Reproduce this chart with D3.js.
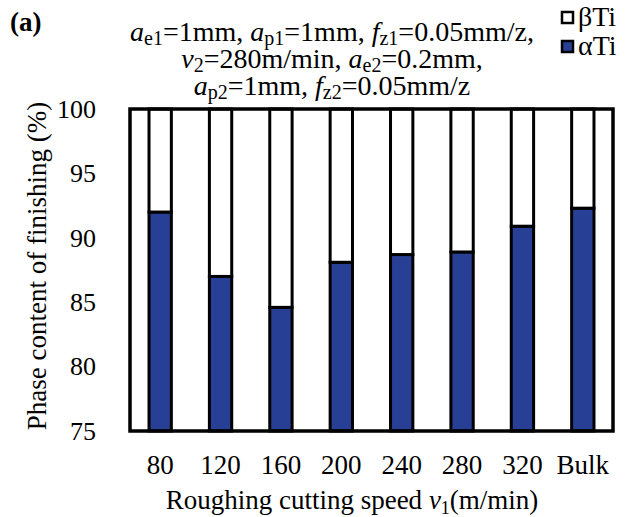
<!DOCTYPE html>
<html>
<head>
<meta charset="utf-8">
<script src="https://cdn.jsdelivr.net/npm/d3@7"></script>
<style>
  body { margin: 0; background: #fff; }
  text { font-family: "Liberation Serif", "Times New Roman", serif; fill: #000; }
</style>
</head>
<body>
<svg id="chart"></svg>
<script>
// data
var categories = ["80", "120", "160", "200", "240", "280", "320", "Bulk"];
var alphaTi = [92.0, 87.0, 84.6, 88.1, 88.7, 88.9, 90.9, 92.3];
var betaTi = [8.0, 13.0, 15.4, 11.9, 11.3, 11.1, 9.1, 7.7];
var yTicks = [75, 80, 85, 90, 95, 100];

var width = 627, height = 517;
var plotLeft = 130, plotRight = 613, plotTop = 109, plotBottom = 431;
var blue = "#273f94";

var svg = d3.select("#chart").attr("width", width).attr("height", height);

var x = d3.scaleBand()
  .domain(categories)
  .range([plotLeft, plotRight])
  .paddingInner(0.63)
  .paddingOuter(0.315);

var y = d3.scaleLinear().domain([75, 100]).range([plotBottom, plotTop]);

var rows = categories.map(function(c, i) {
  return { cat: c, alpha: alphaTi[i], beta: betaTi[i] };
});

// alpha (bottom, blue)
svg.selectAll("rect.alpha")
  .data(rows)
  .enter().append("rect")
  .attr("class", "alpha")
  .attr("x", function(d) { return x(d.cat); })
  .attr("width", x.bandwidth())
  .attr("y", function(d) { return y(d.alpha); })
  .attr("height", function(d) { return y(75) - y(d.alpha); })
  .attr("fill", blue)
  .attr("stroke", "#000")
  .attr("stroke-width", 3);

// beta (stacked on top, white)
svg.selectAll("rect.beta")
  .data(rows)
  .enter().append("rect")
  .attr("class", "beta")
  .attr("x", function(d) { return x(d.cat); })
  .attr("width", x.bandwidth())
  .attr("y", function(d) { return y(d.alpha + d.beta); })
  .attr("height", function(d) { return y(d.alpha) - y(d.alpha + d.beta); })
  .attr("fill", "#fff")
  .attr("stroke", "#000")
  .attr("stroke-width", 3);

// frame
svg.append("rect")
  .attr("x", plotLeft).attr("y", plotTop)
  .attr("width", plotRight - plotLeft).attr("height", plotBottom - plotTop)
  .attr("fill", "none").attr("stroke", "#000").attr("stroke-width", 3.5);

// y axis
var yAxis = d3.axisLeft(y).tickValues(yTicks).tickSize(0).tickPadding(34);
var gy = svg.append("g").attr("transform", "translate(" + plotLeft + ",0)").call(yAxis);
gy.select(".domain").remove();
gy.selectAll("text").style("font-size", "26px").style("font-family", "Liberation Serif");

// x axis
var xAxis = d3.axisBottom(x).tickSize(0).tickPadding(24);
var gx = svg.append("g").attr("transform", "translate(0," + plotBottom + ")").call(xAxis);
gx.select(".domain").remove();
gx.selectAll("text").style("font-size", "27px").style("font-family", "Liberation Serif");

// axis titles
svg.append("text")
  .attr("transform", "translate(46,266) rotate(-90)")
  .attr("text-anchor", "middle")
  .style("font-size", "27px")
  .text("Phase content of finishing (%)");

var xt = svg.append("text")
  .attr("x", 352).attr("y", 509)
  .attr("text-anchor", "middle")
  .style("font-size", "27px");
xt.append("tspan").text("Roughing cutting speed ");
xt.append("tspan").style("font-style", "italic").text("v");
xt.append("tspan").attr("dy", 5).style("font-size", "18px").text("1");
xt.append("tspan").attr("dy", -5).text("(m/min)");

// panel label
svg.append("text")
  .attr("x", 10).attr("y", 31)
  .style("font-size", "27px").style("font-weight", "bold")
  .text("(a)");

// condition text with italic symbols and subscripts
var lines = [
  [["i", "a"], ["s", "e1"], ["", "=1mm, "], ["i", "a"], ["s", "p1"], ["", "=1mm, "], ["i", "f"], ["s", "z1"], ["", "=0.05mm/z,"]],
  [["i", "v"], ["s", "2"], ["", "=280m/min, "], ["i", "a"], ["s", "e2"], ["", "=0.2mm,"]],
  [["i", "a"], ["s", "p2"], ["", "=1mm, "], ["i", "f"], ["s", "z2"], ["", "=0.05mm/z"]]
];
var lineY = [41, 68, 95];
lines.forEach(function(segs, li) {
  var t = svg.append("text")
    .attr("x", 332).attr("y", lineY[li])
    .attr("text-anchor", "middle")
    .style("font-size", "28px");
  var shifted = false;
  segs.forEach(function(s) {
    var sp = t.append("tspan").text(s[1]);
    if (s[0] === "i") sp.style("font-style", "italic");
    if (s[0] === "s") { sp.attr("dy", 4).style("font-size", "20px"); shifted = true; }
    else if (shifted) { sp.attr("dy", -4); shifted = false; }
  });
});

// legend
var legend = [["βTi", "#fff"], ["αTi", blue]];
var lg = svg.selectAll("g.legend")
  .data(legend)
  .enter().append("g")
  .attr("class", "legend")
  .attr("transform", function(d, i) { return "translate(562," + (12 + i * 29) + ")"; });
lg.append("rect")
  .attr("width", 11).attr("height", 11)
  .attr("fill", function(d) { return d[1]; })
  .attr("stroke", "#000").attr("stroke-width", 2.5);
lg.append("text")
  .attr("x", 16).attr("y", 14)
  .style("font-size", "28px")
  .text(function(d) { return d[0]; });
</script>
</body>
</html>
